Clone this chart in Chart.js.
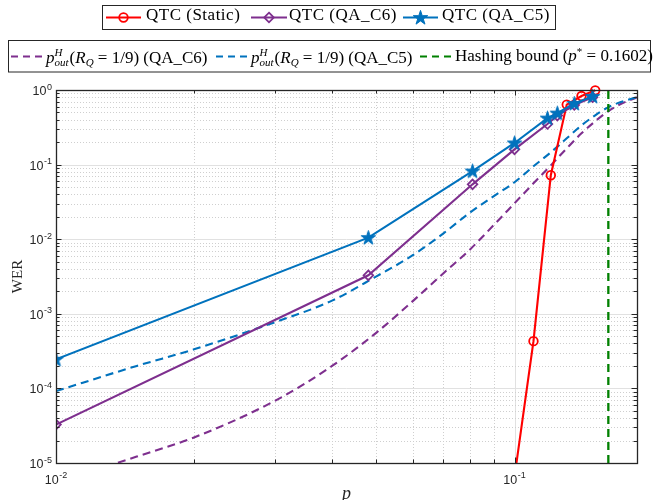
<!DOCTYPE html>
<html><head><meta charset="utf-8">
<script src="https://cdn.jsdelivr.net/npm/chart.js@4.4.1/dist/chart.umd.min.js"></script>
<style>
html,body{margin:0;padding:0;background:#fff;}
#wrap{position:relative;width:657px;height:500px;overflow:hidden;background:#fff;}
#c{position:absolute;left:0;top:0;}
#lg{position:absolute;left:0;top:0;}
.it{position:absolute;white-space:nowrap;font-family:"Liberation Serif",serif;font-size:17px;color:#000;line-height:17px;}
.r1{letter-spacing:0.5px;}
.ss{display:inline-block;vertical-align:-3.5px;font-size:11px;line-height:10px;margin-right:1px;}
.ss i{display:block;}
sub{font-size:11px;vertical-align:-3px;line-height:0;}
sup{font-size:11px;vertical-align:6px;line-height:0;}
</style></head>
<body><div id="wrap">
<canvas id="c" width="657" height="500" style="width:657px;height:500px"></canvas>
<svg id="lg" width="657" height="80"></svg>
<div class="it r1" style="left:146px;top:6px">QTC (Static)</div>
<div class="it r1" style="left:289px;top:6px">QTC (QA_C6)</div>
<div class="it r1" style="left:442px;top:6px">QTC (QA_C5)</div>
<div class="it" style="left:46px;top:47px"><i>p</i><span class="ss"><i>H</i><i>out</i></span>(<i>R</i><sub><i>Q</i></sub> = 1/9) (QA_C6)</div>
<div class="it" style="left:251px;top:47px"><i>p</i><span class="ss"><i>H</i><i>out</i></span>(<i>R</i><sub><i>Q</i></sub> = 1/9) (QA_C5)</div>
<div class="it" style="left:455px;top:47px">Hashing bound (<i>p</i><sup>*</sup> = 0.1602)</div>
</div>
<script>
// ---------------- data ----------------
const staticP   = [0.10, 0.11, 0.12, 0.13, 0.14, 0.15];
const staticWER = [6.5e-6, 4.3e-4, 0.072, 0.637, 0.83, 0.99];

const c6P   = [0.01, 0.048, 0.081, 0.10, 0.118, 0.124, 0.135, 0.148];
const c6WER = [3.27e-5, 3.28e-3, 0.0544, 0.160, 0.35, 0.454, 0.63, 0.80];

const c5P   = [0.01, 0.048, 0.081, 0.10, 0.118, 0.124, 0.135, 0.148];
const c5WER = [2.45e-4, 0.0105, 0.082, 0.195, 0.42, 0.49, 0.66, 0.82];

const boundP     = [0.01, 0.015, 0.02, 0.03, 0.04, 0.05, 0.06, 0.07, 0.08, 0.09, 0.10, 0.11, 0.12, 0.13, 0.14, 0.15, 0.16, 0.17, 0.185];
const c6BoundWER = [5.5e-6, 1.22e-5, 2.2e-5, 6.8e-5, 2.0e-4, 5.6e-4, 1.48e-3, 3.5e-3, 7.3e-3, 0.01535, 0.0303, 0.0561, 0.0977, 0.165, 0.263, 0.381, 0.518, 0.643, 0.798];
const c5BoundWER = [9.2e-5, 2.0e-4, 3.34e-4, 7.7e-4, 1.5e-3, 3.18e-3, 6.1e-3, 0.012, 0.0228, 0.0376, 0.058, 0.095, 0.146, 0.225, 0.336, 0.458, 0.586, 0.684, 0.80];

const hashingP = [0.1602, 0.1602];
const hashingWER = [1e-5, 1];

const xMin = 0.01, xMax = 0.185, yMin = 1e-5, yMax = 1;
const xLabelValues = [0.01, 0.1];
const xLabelExps = ['-2', '-1'];
const yLabelValues = [1e-5, 1e-4, 1e-3, 1e-2, 1e-1, 1];
const yLabelExps = ['-5', '-4', '-3', '-2', '-1', '0'];

// ---------------- colours ----------------
const RED = '#FF0000', PURPLE = '#7E2F8E', BLUE = '#0072BD', GREEN = '#008000', AX = '#262626';

function decadeTicks(lo, hi) {
  const out = [];
  for (let e = Math.floor(Math.log10(lo)); e <= Math.ceil(Math.log10(hi)); e++) {
    for (let m = 1; m <= 9; m++) {
      const v = parseFloat((m * Math.pow(10, e)).toPrecision(6));
      if (v >= lo * 0.9999 && v <= hi * 1.0001) out.push(v);
    }
  }
  return out;
}
const xTickValues = decadeTicks(xMin, xMax);
const yTickValues = decadeTicks(yMin, yMax);
const isPow10 = v => Math.abs(Math.log10(v) - Math.round(Math.log10(v))) < 1e-9;

// star marker
function starPath(ctx, cx, cy, R) {
  const r = R * 0.382;
  ctx.beginPath();
  for (let i = 0; i < 10; i++) {
    const rad = (i % 2 === 0) ? R : r;
    const a = -Math.PI / 2 + i * Math.PI / 5;
    const px = cx + rad * Math.cos(a), py = cy + rad * Math.sin(a);
    if (i === 0) ctx.moveTo(px, py); else ctx.lineTo(px, py);
  }
  ctx.closePath();
}
const starCanvas = document.createElement('canvas');
starCanvas.width = 17; starCanvas.height = 17;
(function(){ const g = starCanvas.getContext('2d'); starPath(g, 8.5, 9, 7.6); g.fillStyle = BLUE; g.fill(); g.strokeStyle = BLUE; g.lineWidth = 1; g.stroke(); })();

const pts = (P, W) => P.map((p, i) => ({x: p, y: W[i]}));
const solidClip = {left: 0, top: 10, right: 0, bottom: 0};

const datasets = [
  {label: 'QTC (QA_C5)', data: pts(c5P, c5WER), borderColor: BLUE, borderWidth: 2.1, pointStyle: starCanvas, pointRadius: 7, clip: solidClip},
  {label: 'QTC (QA_C6)', data: pts(c6P, c6WER), borderColor: PURPLE, borderWidth: 2.1, pointStyle: 'rectRot', pointRadius: 4.8, pointBorderWidth: 1.8, pointBorderColor: PURPLE, pointBackgroundColor: 'rgba(0,0,0,0)', clip: solidClip},
  {label: 'QTC (Static)', data: pts(staticP, staticWER), borderColor: RED, borderWidth: 2.1, pointStyle: 'circle', pointRadius: 4.3, pointBorderWidth: 1.8, pointBorderColor: RED, pointBackgroundColor: 'rgba(0,0,0,0)', clip: solidClip},
  {label: 'Hashing bound', data: pts(hashingP, hashingWER), borderColor: GREEN, borderWidth: 2.3, borderDash: [8, 5], pointRadius: 0},
  {label: 'bound C5', data: pts(boundP, c5BoundWER), borderColor: BLUE, borderWidth: 2.1, borderDash: [8, 5], pointRadius: 0, cubicInterpolationMode: 'monotone'},
  {label: 'bound C6', data: pts(boundP, c6BoundWER), borderColor: PURPLE, borderWidth: 2.1, borderDash: [8, 5], pointRadius: 0, cubicInterpolationMode: 'monotone'}
];
datasets.forEach(d => { d.fill = false; d.backgroundColor = d.borderColor; d.pointHoverRadius = d.pointRadius; });

function drawPow(ctx, exp, x, baseY, align) {
  ctx.font = '12.5px "Liberation Sans", Arial, sans-serif';
  const wb = ctx.measureText('10').width;
  ctx.font = '9px "Liberation Sans", Arial, sans-serif';
  const we = ctx.measureText(exp).width;
  const tot = wb + we + 0.5;
  let sx = align === 'right' ? x - tot : x - tot / 2;
  ctx.textAlign = 'left'; ctx.textBaseline = 'alphabetic'; ctx.fillStyle = AX;
  ctx.font = '12.5px "Liberation Sans", Arial, sans-serif';
  ctx.fillText('10', sx, baseY);
  ctx.font = '9px "Liberation Sans", Arial, sans-serif';
  ctx.fillText(exp, sx + wb + 0.5, baseY - 5.5);
}

const framePlugin = {
  id: 'frame',
  beforeDatasetsDraw(chart) {
    const {ctx, chartArea: a, scales: {x, y}} = chart;
    ctx.save();
    ctx.lineWidth = 1;
    xTickValues.forEach(v => {
      const px = Math.round(x.getPixelForValue(v)) + 0.5;
      if (px <= a.left + 1 || px >= a.right - 1) return;
      const maj = isPow10(v);
      ctx.strokeStyle = maj ? '#e1e1e1' : '#cfcfcf';
      ctx.setLineDash(maj ? [] : [1, 2]);
      ctx.beginPath(); ctx.moveTo(px, a.top); ctx.lineTo(px, a.bottom); ctx.stroke();
    });
    yTickValues.forEach(v => {
      const py = Math.round(y.getPixelForValue(v)) + 0.5;
      if (py <= a.top + 1 || py >= a.bottom - 1) return;
      const maj = isPow10(v);
      ctx.strokeStyle = maj ? '#e1e1e1' : '#cfcfcf';
      ctx.setLineDash(maj ? [] : [1, 2]);
      ctx.beginPath(); ctx.moveTo(a.left, py); ctx.lineTo(a.right, py); ctx.stroke();
    });
    ctx.restore();
  },
  afterDatasetsDraw(chart) {
    const {ctx, chartArea: a, scales: {x, y}} = chart;
    ctx.save();
    ctx.setLineDash([]);
    ctx.strokeStyle = AX; ctx.lineWidth = 1;
    xTickValues.forEach(v => {
      const px = Math.round(x.getPixelForValue(v)) + 0.5;
      const L = isPow10(v) ? 5.5 : 3.5;
      ctx.beginPath();
      ctx.moveTo(px, a.bottom); ctx.lineTo(px, a.bottom - L);
      ctx.moveTo(px, a.top); ctx.lineTo(px, a.top + L);
      ctx.stroke();
    });
    yTickValues.forEach(v => {
      const py = Math.round(y.getPixelForValue(v)) + 0.5;
      const L = isPow10(v) ? 5.5 : 3.5;
      ctx.beginPath();
      ctx.moveTo(a.left, py); ctx.lineTo(a.left + L, py);
      ctx.moveTo(a.right, py); ctx.lineTo(a.right - L, py);
      ctx.stroke();
    });
    ctx.lineWidth = 1.3;
    ctx.strokeRect(Math.round(a.left) + 0.5, Math.round(a.top) + 0.5, Math.round(a.right - a.left), Math.round(a.bottom - a.top));
    ctx.restore();
  },
  afterDraw(chart) {
    const {ctx, chartArea: a, scales: {x, y}} = chart;
    ctx.save();
    xLabelValues.forEach((v, i) => drawPow(ctx, xLabelExps[i], x.getPixelForValue(v), a.bottom + 20.5, 'center'));
    yLabelValues.forEach((v, i) => drawPow(ctx, yLabelExps[i], a.left - 4, y.getPixelForValue(v) + 5, 'right'));
    ctx.restore();
  }
};

new Chart(document.getElementById('c'), {
  type: 'line',
  data: {datasets},
  options: {
    responsive: false, animation: false, devicePixelRatio: window.devicePixelRatio || 1,
    layout: {padding: {left: 0, right: 20, top: 90, bottom: 0}},
    plugins: {legend: {display: false}, tooltip: {enabled: false}},
    elements: {line: {tension: 0}},
    scales: {
      x: {
        type: 'logarithmic', min: xMin, max: xMax,
        grid: {display: false}, border: {display: false},
        ticks: {display: false},
        title: {display: true, text: 'p', color: AX, font: {family: 'Liberation Serif', size: 18, style: 'italic'}, padding: {top: 0, bottom: -5}},
        afterBuildTicks(s) { s.ticks = xTickValues.map(v => ({value: v})); },
        afterFit(s) { s.height = 37; }
      },
      y: {
        type: 'logarithmic', min: yMin, max: yMax,
        grid: {display: false}, border: {display: false},
        ticks: {display: false},
        title: {display: true, text: 'WER', color: AX, font: {family: 'Liberation Serif', size: 15}, padding: {top: 9, bottom: 0}},
        afterBuildTicks(s) { s.ticks = yTickValues.map(v => ({value: v})); },
        afterFit(s) { s.width = 56; }
      }
    }
  },
  plugins: [framePlugin]
});

// ---------------- legend graphics (SVG) ----------------
(function(){
  const svg = document.getElementById('lg');
  const NS = 'http://www.w3.org/2000/svg';
  const add = (tag, attrs) => { const e = document.createElementNS(NS, tag); for (const k in attrs) e.setAttribute(k, attrs[k]); svg.appendChild(e); return e; };
  add('rect', {x: 102.5, y: 5.5, width: 453, height: 24, fill: '#fff', stroke: AX, 'stroke-width': 1});
  add('rect', {x: 8.5, y: 40.5, width: 642, height: 31.5, fill: '#fff', stroke: AX, 'stroke-width': 1});
  const y1 = 17.5;
  add('line', {x1: 106, y1, x2: 141, y2: y1, stroke: RED, 'stroke-width': 2});
  add('circle', {cx: 123.5, cy: y1, r: 4.3, fill: 'none', stroke: RED, 'stroke-width': 1.8});
  add('line', {x1: 251, y1, x2: 287, y2: y1, stroke: PURPLE, 'stroke-width': 2});
  add('polygon', {points: `269,${y1-4.8} 273.8,${y1} 269,${y1+4.8} 264.2,${y1}`, fill: 'none', stroke: PURPLE, 'stroke-width': 1.8});
  add('line', {x1: 403, y1, x2: 438, y2: y1, stroke: BLUE, 'stroke-width': 2});
  const sp = []; const R = 7.6, r = R * 0.382;
  for (let i = 0; i < 10; i++) { const rad = i % 2 ? r : R; const a = -Math.PI/2 + i*Math.PI/5; sp.push((420.5 + rad*Math.cos(a)).toFixed(2) + ',' + (y1 + 0.5 + rad*Math.sin(a)).toFixed(2)); }
  add('polygon', {points: sp.join(' '), fill: BLUE, stroke: BLUE, 'stroke-width': 1});
  const y2 = 56.5;
  add('line', {x1: 11, y1: y2, x2: 44, y2, stroke: PURPLE, 'stroke-width': 2, 'stroke-dasharray': '7,5'});
  add('line', {x1: 216, y1: y2, x2: 249, y2, stroke: BLUE, 'stroke-width': 2, 'stroke-dasharray': '7,5'});
  add('line', {x1: 420, y1: y2, x2: 453, y2, stroke: GREEN, 'stroke-width': 2, 'stroke-dasharray': '7,5'});
})();
</script>
</body></html>
